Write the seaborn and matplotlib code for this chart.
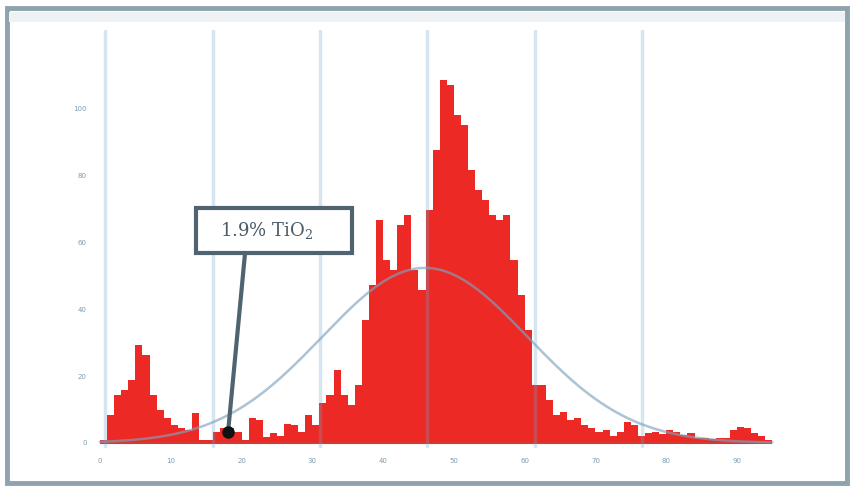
import numpy as np
import pandas as pd
import matplotlib
matplotlib.use("Agg")
import matplotlib.pyplot as plt
from matplotlib.patches import Rectangle
import seaborn as sns

# Histogram counts, one per unit-wide bin starting at 0
counts = [1, 8.4, 14.4, 15.9, 18.9, 29.3, 26.3, 14.4, 9.9, 7.5,
          5.4, 4.5, 3.9, 9.0, 0.9, 0.9, 3.3, 4.5, 4.5, 3.3,
          0.9, 7.5, 6.9, 1.8, 3.0, 2.1, 5.7, 5.4, 3.3, 8.4,
          5.4, 12.0, 14.4, 21.9, 14.4, 11.4, 17.4, 36.8, 47.3, 66.8,
          54.8, 51.8, 65.3, 68.3, 51.8, 45.8, 69.8, 87.7, 108.7, 107.2,
          98.2, 95.2, 81.7, 75.7, 72.8, 68.3, 66.8, 68.3, 54.8, 44.3,
          33.8, 17.4, 17.4, 12.9, 8.4, 9.3, 6.9, 7.5, 5.4, 4.5,
          3.3, 3.9, 2.1, 3.3, 6.3, 5.4, 2.1, 3.0, 3.3, 2.7,
          3.9, 3.3, 2.4, 3.0, 1.5, 1.5, 1.2, 1.5, 1.5, 3.9,
          4.8, 4.5, 3.0, 2.1, 0.9]
bin_width = 1.0

# Fitted normal curve parameters
fit_mean = 45.9
fit_sd = 14.5
fit_peak = 52.4

x_ticks = [0, 10, 20, 30, 40, 50, 60, 70, 80, 90]
y_ticks = [0, 20, 40, 60, 80, 100]
grid_x = [0.7, 16.0, 31.1, 46.2, 61.4, 76.6]

label_text = "1.9% TiO$_2$"
label_point = (18.1, 3.3)

n_bins = len(counts)
x_end = n_bins * bin_width
centers = np.arange(n_bins) * bin_width + bin_width / 2
df = pd.DataFrame({"x": centers, "n": counts})

sns.set_style("white")
plt.rcParams["font.family"] = ["DejaVu Sans"]
plt.rcParams["mathtext.fontset"] = "dejavuserif"

fig = plt.figure(figsize=(8.54, 4.88), dpi=100)
ax = fig.add_axes([95 / 854, 1 - 450 / 488, 705 / 854, 420 / 488])

sns.histplot(data=df, x="x", weights="n", binwidth=bin_width,
             binrange=(0, x_end), element="step",
             fill=True, color="#ec2924", alpha=1.0, linewidth=0, ax=ax,
             zorder=2)
# darker baseline under the bars
ax.hlines(0, 0, x_end, color="#d23b33", lw=1.5, zorder=3)

for gx in grid_x:
    ax.axvline(gx, ymin=0.01, color="#6fa8cf", lw=2.5, alpha=0.28, zorder=4)

xs = np.linspace(0, x_end, 400)
curve = pd.DataFrame({"x": xs,
                      "y": fit_peak * np.exp(-0.5 * ((xs - fit_mean) / fit_sd) ** 2)})
sns.lineplot(data=curve, x="x", y="y", color="#7fa3bd", alpha=0.65, lw=1.8,
             ax=ax, zorder=5)

ax.set_xlim(-0.7, 98.9)
ax.set_ylim(-2.1, 123.6)
ax.set_xticks(x_ticks)
ax.set_yticks(y_ticks)
ax.set_xticklabels([str(v) for v in x_ticks], fontsize=5, color="#7a9cb2")
ax.set_yticklabels([str(v) for v in y_ticks], fontsize=5, color="#7a9cb2")
ax.tick_params(length=0, pad=6)
ax.set_xlabel("")
ax.set_ylabel("")
for s in ax.spines.values():
    s.set_visible(False)

# callout box with leader line and dot
box_x0, box_x1 = 13.56, 35.6
box_y0, box_y1 = 56.9, 70.4
ax.add_patch(Rectangle((box_x0, box_y0), box_x1 - box_x0, box_y1 - box_y0,
                       facecolor="white", edgecolor="#4f6470", lw=3, zorder=7))
ax.text(23.5, 63.6, label_text, ha="center", va="center", fontsize=13,
        family="DejaVu Serif", color="#4a5a66", zorder=8)
ax.plot([20.5, label_point[0]], [box_y0, label_point[1]], color="#4f6470",
        lw=3, zorder=7, solid_capstyle="butt")
ax.plot([label_point[0]], [label_point[1]], "o", color="#111111",
        markersize=8, zorder=8)

# outer frame
fig.patches.append(Rectangle((7 / 854, 5 / 488), 840 / 854, 475 / 488,
                             transform=fig.transFigure, fill=False,
                             edgecolor="#8ea3ae", lw=3.5))
fig.patches.append(Rectangle((9 / 854, 1 - 22 / 488), 836 / 854, 10 / 488,
                             transform=fig.transFigure, facecolor="#eef2f4",
                             edgecolor="none"))

fig.savefig("out.png", dpi=100)
